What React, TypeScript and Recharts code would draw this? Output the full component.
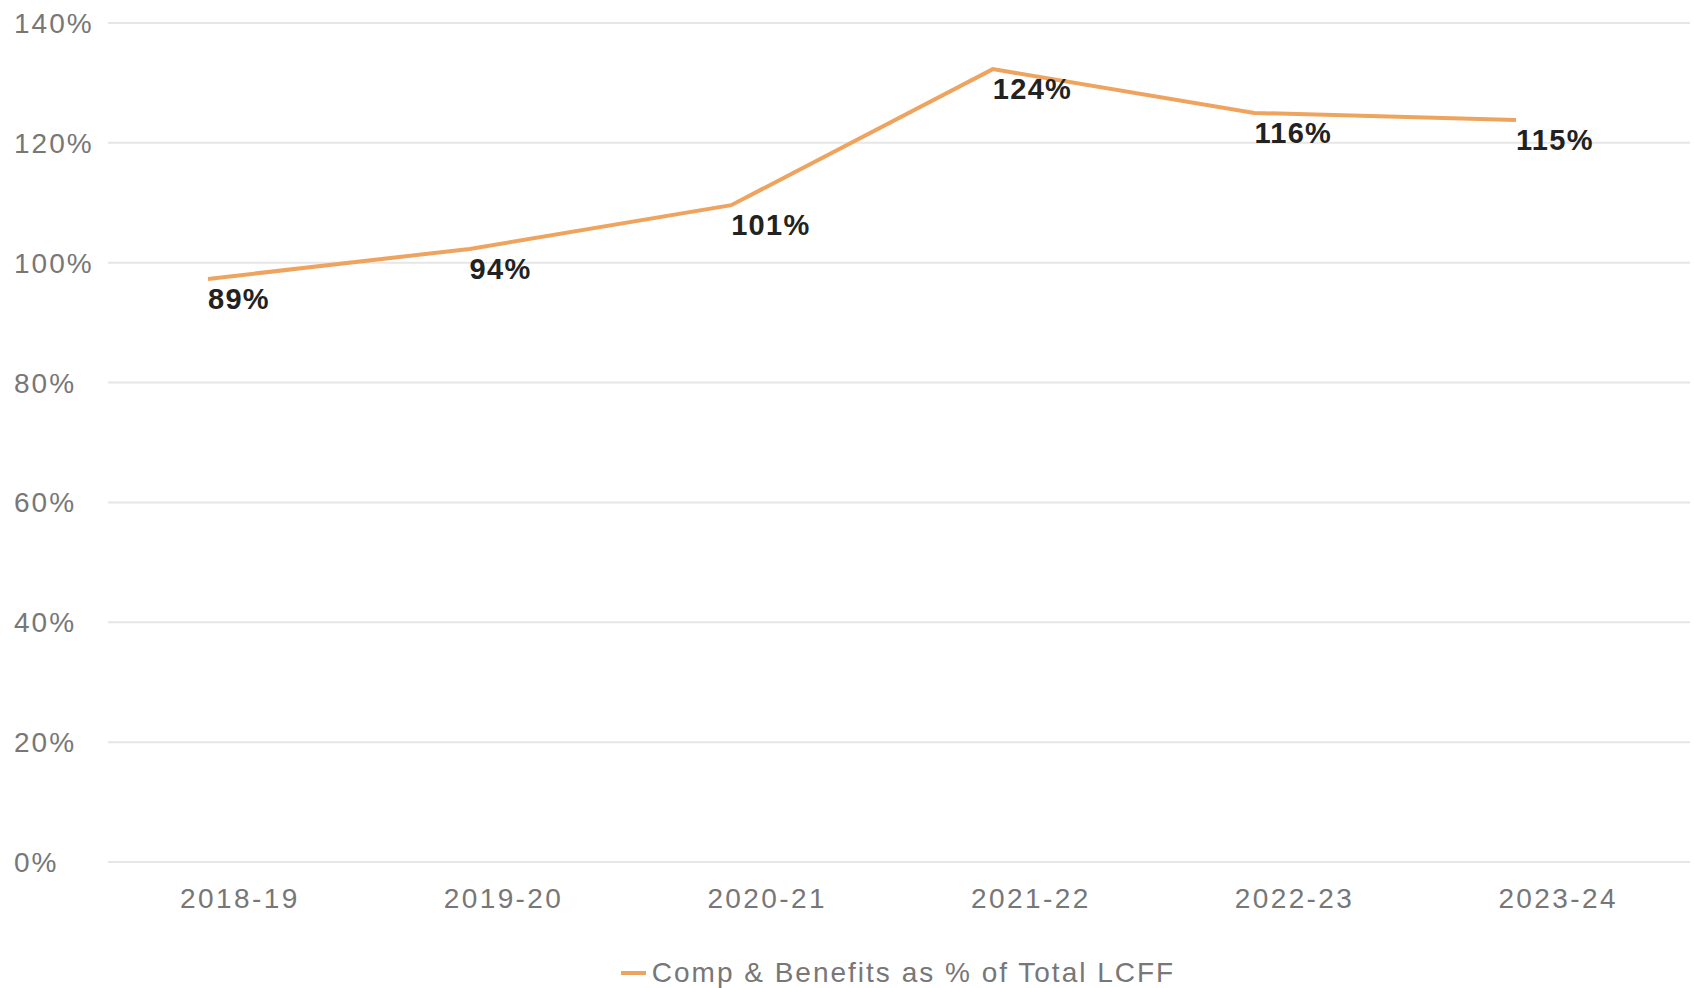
import React from 'react';
import { LineChart, Line, XAxis, YAxis, CartesianGrid, Legend, LabelList } from 'recharts';

const years = ['2018-19', '2019-20', '2020-21', '2021-22', '2022-23', '2023-24'];
const ratio = [97.3, 102.3, 109.6, 132.3, 125.0, 123.8];
const ratioLabels = ['89%', '94%', '101%', '124%', '116%', '115%'];
const yTicks = [0, 20, 40, 60, 80, 100, 120, 140];

const data = years.map((year, i) => ({ year, ratio: ratio[i], label: ratioLabels[i] }));

const FONT = '"Liberation Sans", Arial, sans-serif';

const YTick = (props: any) => {
  const { y, payload } = props;
  return (
    <text x={14} y={y} dy={10} textAnchor="start" fill="#777" fontSize={28} letterSpacing={2} fontFamily={FONT}>
      {payload.value}%
    </text>
  );
};

const PointLabel = (props: any) => {
  const { x, y, index } = props;
  return (
    <text x={x} y={y} dy={30} textAnchor="start" fill="#222" fontSize={29} fontWeight="bold" letterSpacing={1.3} fontFamily={FONT}>
      {ratioLabels[index]}
    </text>
  );
};

// legend is centred on the plot area, not the whole chart
const LegendContent = () => (
  <div style={{ display: 'flex', justifyContent: 'center', alignItems: 'center', paddingTop: 29, paddingLeft: 106, fontFamily: FONT, fontSize: 28, letterSpacing: 2, color: '#777' }}>
    <span style={{ display: 'inline-block', width: 25, height: 4, background: '#eea45f', marginRight: 6 }} />
    <span>Comp &amp; Benefits as % of Total LCFF</span>
  </div>
);

export default function App() {
  return (
    <div style={{ position: 'absolute', left: 0, top: 0, background: '#fff' }}>
      <LineChart width={1694} height={988} data={data} margin={{ top: 23, right: 4, left: 0, bottom: 0 }}>
        <CartesianGrid vertical={false} stroke="#e6e6e6" strokeWidth={2} />
        <XAxis
          dataKey="year"
          scale="band"
          axisLine={false}
          tickLine={false}
          height={66}
          tick={{ fill: '#777', fontSize: 28, letterSpacing: 2.4, fontFamily: FONT }}
          tickMargin={20}
        />
        <XAxis dataKey="year" xAxisId="pos" hide padding={{ left: 100, right: 174 }} />
        <YAxis
          domain={[0, 140]}
          ticks={yTicks}
          width={108}
          axisLine={false}
          tickLine={false}
          tick={<YTick />}
        />
        <Legend verticalAlign="bottom" height={60} content={<LegendContent />} />
        <Line
          xAxisId="pos"
          dataKey="ratio"
          stroke="#eea45f"
          strokeWidth={4}
          dot={false}
          isAnimationActive={false}
        >
          <LabelList dataKey="label" content={<PointLabel />} />
        </Line>
      </LineChart>
    </div>
  );
}
